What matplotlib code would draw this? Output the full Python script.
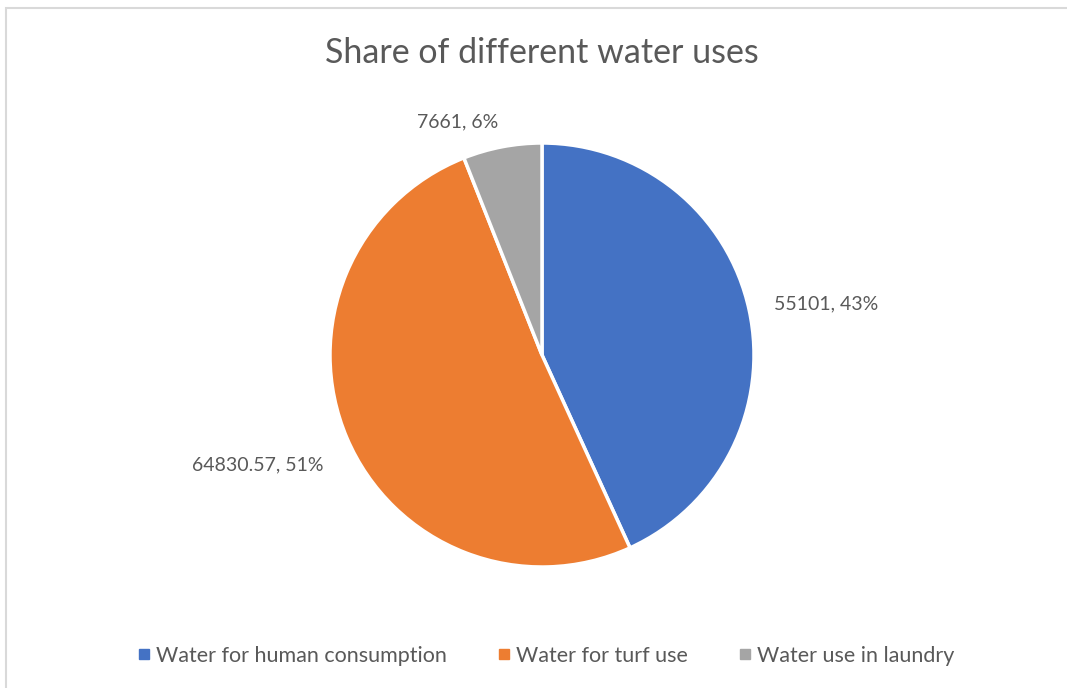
import matplotlib.pyplot as plt
from matplotlib.lines import Line2D
from matplotlib.patches import Rectangle

labels = ['Water for human consumption', 'Water for turf use', 'Water use in laundry']
values = [55101, 64830.57, 7661]
value_text = ['55101', '64830.57', '7661']
colors = ['#4472C4', '#ED7D31', '#A5A5A5']
# label centres, in pie-radius units
label_pos = [(1.34, 0.24), (-1.34, -0.52), (-0.40, 1.10)]

plt.rcParams['font.family'] = ['Lato', 'DejaVu Sans']
txt = '#595959'

W, H = 1067, 688
fig = plt.figure(figsize=(W / 100, H / 100), dpi=100)

# light frame like the excel chart area
fig.patches.append(Rectangle((6 / W, -0.1), 1.2, (H - 8) / H + 0.1, transform=fig.transFigure,
                             fill=False, ec='#d9d9d9', lw=1.5))

cx, cy, r = 542, 355, 212
ax = fig.add_axes([(cx - r) / W, (H - cy - r) / H, 2 * r / W, 2 * r / H])
ax.pie(values, colors=colors, startangle=90, counterclock=False, radius=1,
       wedgeprops=dict(edgecolor='white', linewidth=2.5))
ax.set_xlim(-1, 1); ax.set_ylim(-1, 1)
ax.set_aspect('equal')

total = sum(values)
for v, t, (x, y) in zip(values, value_text, label_pos):
    ax.text(x, y, f'{t}, {round(100 * v / total)}%', ha='center', va='center',
            fontsize=14, color=txt, clip_on=False)

fig.text(0.508, 1 - 53 / H, 'Share of different water uses', ha='center', va='center',
         fontsize=24.5, color=txt)

handles = [Line2D([], [], marker='s', ls='none', markersize=6.5, color=c) for c in colors]
fig.legend(handles, labels, loc='center', bbox_to_anchor=(0.51, 1 - 656 / H), ncol=3,
           frameon=False, fontsize=15.5, labelcolor=txt, handletextpad=0.1,
           columnspacing=2.2, handlelength=0.9)

fig.savefig('out.png', dpi=100)
